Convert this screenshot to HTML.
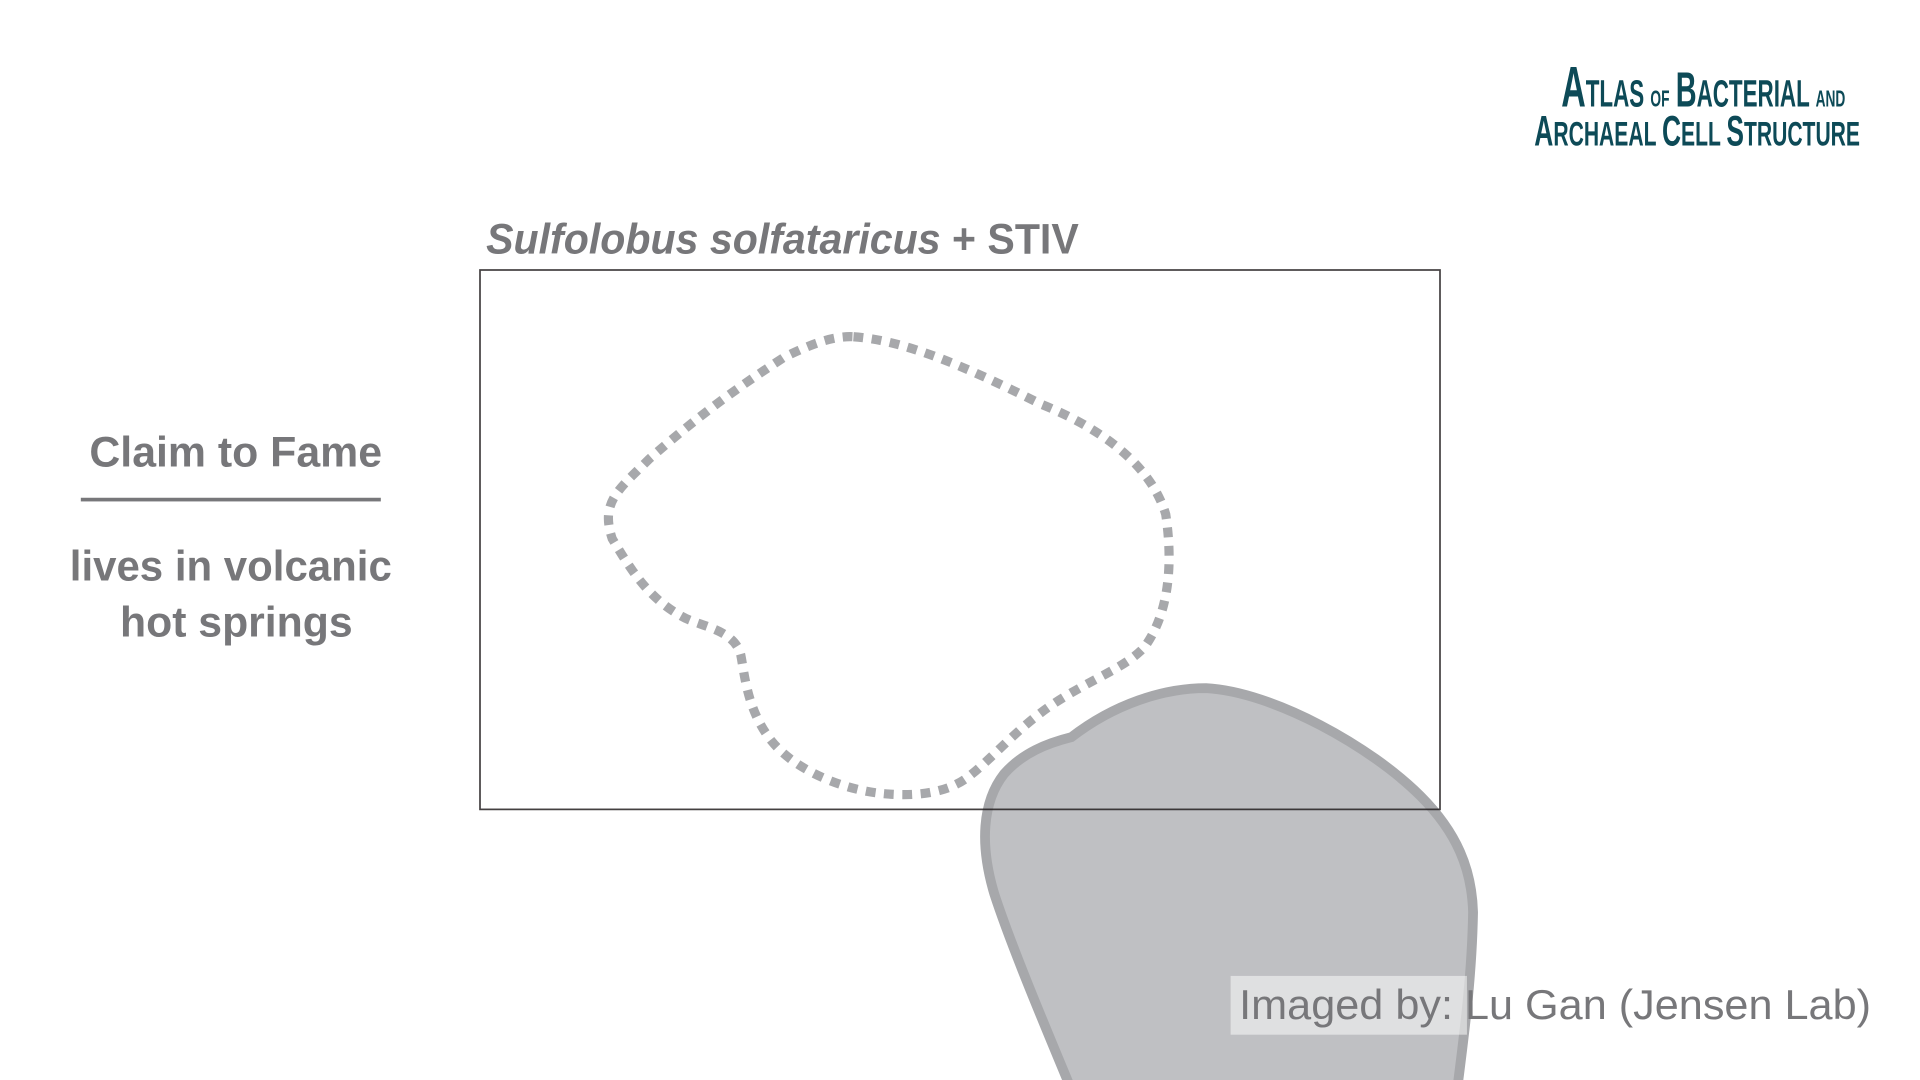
<!DOCTYPE html>
<html><head><meta charset="utf-8"><style>
html,body{margin:0;padding:0;background:#fff;width:1920px;height:1080px;overflow:hidden}
svg{display:block}
text{font-family:"Liberation Sans",sans-serif}
</style></head><body>
<svg width="1920" height="1080" viewBox="0 0 1568 882">
  <path d="M697,275 C740,278 790,300 850,330 C900,350 940,380 952,420 C958,460 955,500 935,528 C920,545 890,555 860,575 C830,595 810,620 790,635 C770,650 740,650 720,648 C690,645 650,630 630,605 C610,580 608,550 605,535 C600,515 575,512 560,505 C530,490 515,465 500,440 C490,410 505,400 530,375 C570,340 600,318 640,292 C660,282 680,274 697,275 Z" fill="none" stroke="#a7a8ab" stroke-width="7.5" stroke-dasharray="8 7"/>
  <path d="M985,562 C1040,565 1120,610 1160,650 C1190,680 1202,710 1203,745 C1202,800 1195,850 1190,890 L875,890 C850,830 825,770 812,730 C800,690 802,655 820,632 C835,615 855,607 875,602 C910,575 950,562 985,562 Z" fill="#bfc0c3" stroke="#a7a8ab" stroke-width="8"/>
  <rect x="392" y="220.5" width="784" height="440.5" fill="none" stroke="#231f20" stroke-width="1.4" stroke-opacity="0.85"/>
  <text x="397" y="207" font-size="35" fill="#77777a" textLength="484" lengthAdjust="spacingAndGlyphs"><tspan font-style="italic" font-weight="bold">Sulfolobus solfataricus</tspan><tspan font-weight="bold"> + STIV</tspan></text>
  <text x="73" y="381" font-size="35" font-weight="bold" fill="#77777a" textLength="239" lengthAdjust="spacingAndGlyphs">Claim to Fame</text>
  <rect x="66" y="406.5" width="245" height="3" fill="#77777a"/>
  <text x="57" y="474" font-size="35" font-weight="bold" fill="#77777a" textLength="263" lengthAdjust="spacingAndGlyphs">lives in volcanic</text>
  <text x="98" y="520" font-size="35" font-weight="bold" fill="#77777a" textLength="190" lengthAdjust="spacingAndGlyphs">hot springs</text>
  <rect x="1005" y="797" width="193" height="48" fill="#ffffff" fill-opacity="0.5"/>
  <text x="1012" y="832" font-size="34" fill="#77777a" textLength="516" lengthAdjust="spacingAndGlyphs">Imaged by: Lu Gan (Jensen Lab)</text>
  <g fill="#0d4a57" font-weight="bold">
    <text x="1275" y="87" font-size="31" textLength="232" lengthAdjust="spacingAndGlyphs"><tspan font-size="47">A</tspan>TLAS <tspan font-size="19">OF</tspan> <tspan font-size="40">B</tspan>ACTERIAL <tspan font-size="19">AND</tspan></text>
    <text x="1253" y="119" font-size="28" textLength="266" lengthAdjust="spacingAndGlyphs"><tspan font-size="35">A</tspan>RCHAEAL <tspan font-size="35">C</tspan>ELL <tspan font-size="35">S</tspan>TRUCTURE</text>
  </g>
</svg>
</body></html>
